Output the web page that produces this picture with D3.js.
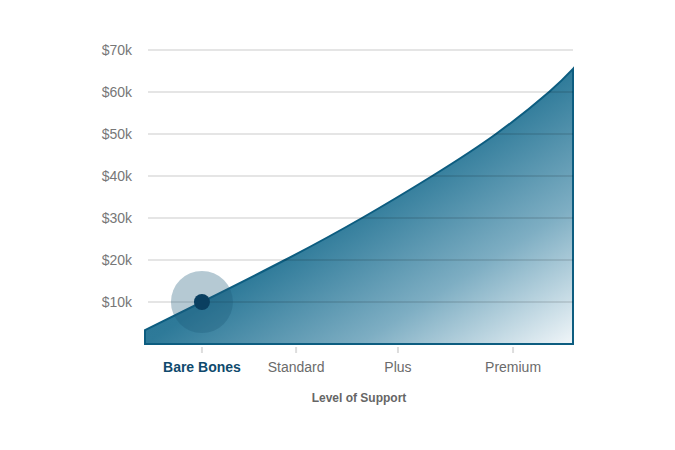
<!DOCTYPE html>
<html>
<head>
<meta charset="utf-8">
<script src="https://cdn.jsdelivr.net/npm/d3@7"></script>
<style>
  body { margin: 0; background: #fff; }
  text { font-family: "Liberation Sans", Arial, Helvetica, sans-serif; }
</style>
</head>
<body>
<div id="chart"></div>
<script>
// Curve of cost vs. support level (x is position along the support axis, 0-100)
const curveX = [0, 13.3, 32.7, 50.7, 67.1, 82.0, 94.4, 100];
const curveCost = [3300, 10000, 20000, 30000, 40000, 50000, 60000, 65500];

// Support levels and where they sit on the axis
const levels = ["Bare Bones", "Standard", "Plus", "Premium"];
const levelX = [13.3, 35.3, 59.1, 86.0];
const selectedLevel = "Bare Bones";
const selectedCost = 10000;

const yTicks = [10000, 20000, 30000, 40000, 50000, 60000, 70000];

const width = 675, height = 450;
const margin = { top: 50, right: 102, bottom: 106, left: 145 };

const svg = d3.select("#chart").append("svg")
    .attr("width", width)
    .attr("height", height);

const x = d3.scaleLinear().domain([0, 100]).range([margin.left, width - margin.right]);
const y = d3.scaleLinear().domain([0, 70000]).range([height - margin.bottom, margin.top]);

// Gradient fill
const grad = svg.append("defs").append("linearGradient")
    .attr("id", "fillGrad")
    .attr("x1", 0).attr("y1", 0).attr("x2", 1).attr("y2", 1);
grad.append("stop").attr("offset", 0).attr("stop-color", "#1c6384");
grad.append("stop").attr("offset", 0.5).attr("stop-color", "#2e7a99");
grad.append("stop").attr("offset", 0.75).attr("stop-color", "#7eaec3");
grad.append("stop").attr("offset", 1).attr("stop-color", "#f1f6f9");

const points = curveX.map((d, i) => ({ x: d, v: curveCost[i] }));

const area = d3.area()
    .x(d => x(d.x))
    .y0(y(0))
    .y1(d => y(d.v))
    .curve(d3.curveNatural);

svg.append("path")
    .datum(points)
    .attr("d", area)
    .attr("fill", "url(#fillGrad)")
    .attr("stroke", "#0d5d80")
    .attr("stroke-width", 2)
    .attr("stroke-linejoin", "miter");

// Grid lines over the area
svg.append("g")
    .selectAll("line")
    .data(yTicks)
    .join("line")
    .attr("x1", x(0) + 3)
    .attr("x2", x(100))
    .attr("y1", d => y(d))
    .attr("y2", d => y(d))
    .attr("stroke", "#000")
    .attr("stroke-opacity", 0.1)
    .attr("stroke-width", 2);

// Y labels
svg.append("g")
    .selectAll("text")
    .data(yTicks)
    .join("text")
    .attr("x", 132)
    .attr("y", d => y(d))
    .attr("dy", "0.35em")
    .attr("text-anchor", "end")
    .attr("font-size", 14)
    .attr("fill", "#777")
    .text(d => "$" + d / 1000 + "k");

// X ticks and labels
const xg = svg.append("g");
xg.selectAll("line")
    .data(levels)
    .join("line")
    .attr("x1", (d, i) => x(levelX[i]))
    .attr("x2", (d, i) => x(levelX[i]))
    .attr("y1", y(0) + 3)
    .attr("y2", y(0) + 9)
    .attr("stroke", "#ddd")
    .attr("stroke-width", 2);

xg.selectAll("text")
    .data(levels)
    .join("text")
    .attr("x", (d, i) => x(levelX[i]))
    .attr("y", y(0) + 28)
    .attr("text-anchor", "middle")
    .attr("font-size", 14)
    .attr("font-weight", d => d === selectedLevel ? "bold" : "normal")
    .attr("fill", d => d === selectedLevel ? "#0f4a6d" : "#6b6b6b")
    .text(d => d);

svg.append("text")
    .attr("x", (x(0) + x(100)) / 2)
    .attr("y", y(0) + 58)
    .attr("text-anchor", "middle")
    .attr("font-size", 12)
    .attr("font-weight", "bold")
    .attr("fill", "#666")
    .text("Level of Support");

// Highlighted level
const selX = x(levelX[levels.indexOf(selectedLevel)]);
svg.append("circle")
    .attr("cx", selX)
    .attr("cy", y(selectedCost))
    .attr("r", 31)
    .attr("fill", "#1f5a7a")
    .attr("fill-opacity", 0.33);

svg.append("circle")
    .attr("cx", selX)
    .attr("cy", y(selectedCost))
    .attr("r", 8)
    .attr("fill", "#0a3f60");
</script>
</body>
</html>
